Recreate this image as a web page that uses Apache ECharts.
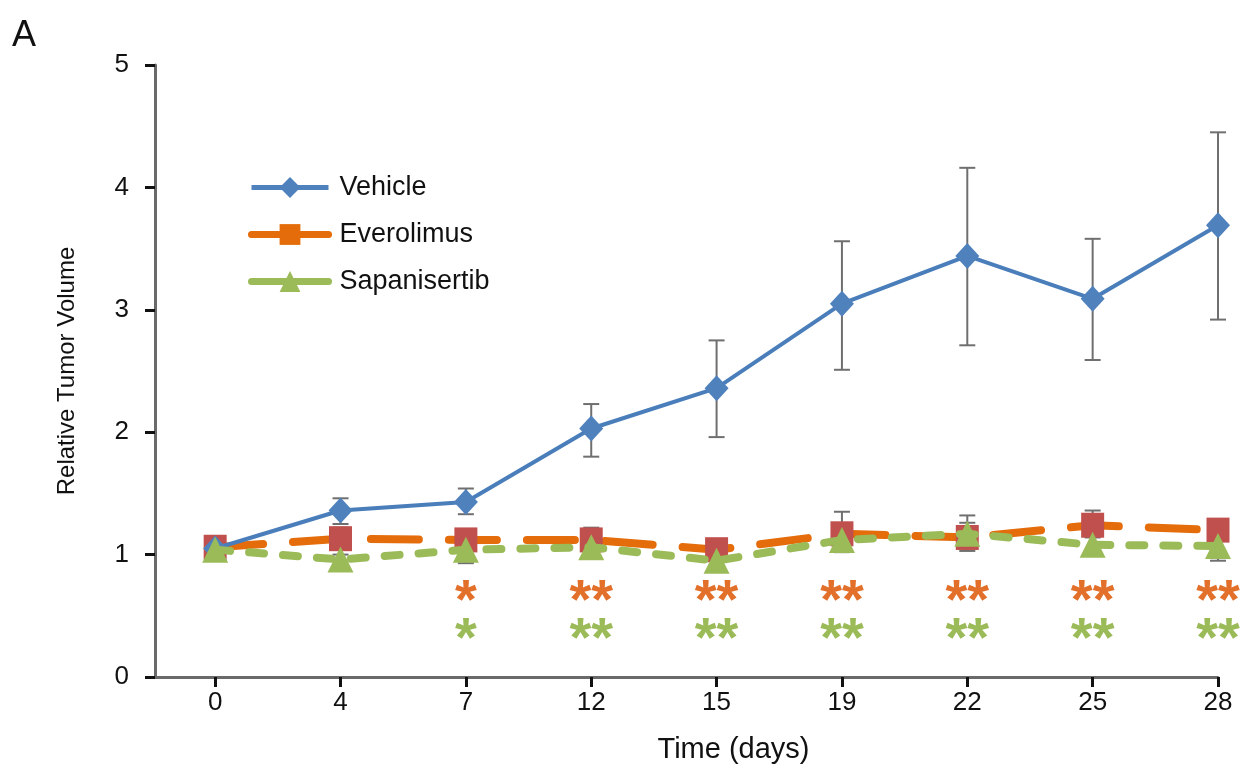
<!DOCTYPE html>
<html>
<head>
<meta charset="utf-8">
<script src="https://cdn.jsdelivr.net/npm/echarts@6/dist/echarts.min.js"></script>
<style>html,body{margin:0;padding:0;background:#fff}#c{width:1246px;height:773px}</style>
</head>
<body>
<div id="c"></div>
<script>
// ---- data ----
const days = ['0', '4', '7', '12', '15', '19', '22', '25', '28'];
const vehicle = [1.05, 1.36, 1.43, 2.03, 2.36, 3.05, 3.44, 3.09, 3.69];
const vehicleLow = [1.05, 1.25, 1.33, 1.80, 1.96, 2.51, 2.71, 2.59, 2.92];
const vehicleHigh = [1.05, 1.46, 1.54, 2.23, 2.75, 3.56, 4.16, 3.58, 4.45];
const everolimus = [1.06, 1.13, 1.12, 1.12, 1.04, 1.17, 1.14, 1.24, 1.20];
const everolimusLow = [1.06, 1.05, 1.04, 1.02, 0.98, 1.02, 1.03, 1.15, 1.12];
const everolimusHigh = [1.06, 1.22, 1.20, 1.22, 1.10, 1.35, 1.32, 1.36, 1.28];
const sapanisertib = [1.04, 0.96, 1.04, 1.06, 0.95, 1.12, 1.17, 1.08, 1.07];
const sapanisertibLow = [1.04, 0.92, 0.93, 1.00, 0.90, 1.04, 1.08, 1.02, 0.95];
const sapanisertibHigh = [1.04, 1.00, 1.10, 1.12, 1.00, 1.20, 1.26, 1.14, 1.12];
const everolimusSig = ['', '', '*', '**', '**', '**', '**', '**', '**'];
const sapanisertibSig = ['', '', '*', '**', '**', '**', '**', '**', '**'];
const sigLevelEverolimus = 0.61;
const sigLevelSapanisertib = 0.30;
const yTicks = [0, 1, 2, 3, 4, 5];

// ---- build ----
const idx = days.map((d, i) => i);
const pts = arr => arr.map((v, i) => [i, v]);
const errData = (lo, hi) => lo.map((l, i) => [i, l, hi[i]]);

function errSeries(lo, hi, z) {
  return {
    type: 'custom', z: z, silent: true,
    data: errData(lo, hi),
    renderItem: function (params, api) {
      const x = api.value(0);
      const p1 = api.coord([x, api.value(1)]);
      const p2 = api.coord([x, api.value(2)]);
      const hw = 8;
      const st = { stroke: '#6f6f6f', lineWidth: 2 };
      return {
        type: 'group', children: [
          { type: 'line', shape: { x1: p1[0], y1: p1[1], x2: p2[0], y2: p2[1] }, style: st },
          { type: 'line', shape: { x1: p1[0] - hw, y1: p1[1], x2: p1[0] + hw, y2: p1[1] }, style: st },
          { type: 'line', shape: { x1: p2[0] - hw, y1: p2[1], x2: p2[0] + hw, y2: p2[1] }, style: st }
        ]
      };
    }
  };
}

function sigSeries(sig, level, color) {
  return {
    type: 'scatter', z: 20, silent: true,
    symbolSize: 2, itemStyle: { color: 'rgba(0,0,0,0)', opacity: 1 },
    data: sig.map((s, i) => ({ value: [i, level], label: { formatter: s } })),
    label: {
      show: true, position: 'inside', color: color,
      fontFamily: 'Liberation Sans, Arial, sans-serif', fontSize: 56, fontWeight: 'bold',
      offset: [0, 22]
    },
    labelLayout: { hideOverlap: false }
  };
}

const chart = echarts.init(document.getElementById('c'), null, { renderer: 'canvas' });
const font = 'Liberation Sans, Arial, sans-serif';
chart.setOption({
  animation: false,
  backgroundColor: '#ffffff',
  grid: { left: 155, right: 28, top: 65, bottom: 96 },
  graphic: [{ type: 'text', left: 12, top: 18, style: { text: 'A', font: '36px ' + font, fill: '#111' } }],
  legend: {
    orient: 'vertical', left: 243, top: 169,
    itemWidth: 77, itemHeight: 26, itemGap: 20,
    textStyle: { fontFamily: font, fontSize: 27, color: '#111', padding: [0, 0, 0, 6] },
    data: [
      { name: 'Vehicle', itemStyle: { color: '#4F81BD' }, lineStyle: { color: '#4F81BD', type: 'solid', width: 5 } },
      { name: 'Everolimus', itemStyle: { color: '#E46C0A' }, lineStyle: { color: '#E46C0A', type: 'solid', width: 7 } },
      { name: 'Sapanisertib', itemStyle: { color: '#9BBB59' }, lineStyle: { color: '#9BBB59', type: 'solid', width: 7 } }
    ]
  },
  xAxis: {
    type: 'value', min: -0.48, max: 8,
    name: 'Time (days)', nameLocation: 'middle', nameGap: 58,
    nameTextStyle: { fontFamily: font, fontSize: 29, color: '#111', padding: [0, 0, 0, 94] },
    axisLine: { show: true, onZero: false, lineStyle: { color: '#6a6a6a', width: 3 } },
    axisTick: { show: true, customValues: idx, length: 10, lineStyle: { color: '#111', width: 3 } },
    axisLabel: { customValues: idx, formatter: v => days[Math.round(v)], margin: 13,
      fontFamily: font, fontSize: 26, color: '#111' },
    splitLine: { show: false }
  },
  yAxis: {
    type: 'value', min: yTicks[0], max: yTicks[yTicks.length - 1], interval: 1,
    name: 'Relative Tumor Volume', nameLocation: 'middle', nameGap: 76,
    nameTextStyle: { fontFamily: font, fontSize: 24, color: '#111' },
    axisLine: { show: true, onZero: false, lineStyle: { color: '#6a6a6a', width: 3 } },
    axisTick: { show: true, length: 10, lineStyle: { color: '#111', width: 3 } },
    axisLabel: { margin: 26, fontFamily: font, fontSize: 26, color: '#111' },
    splitLine: { show: false }
  },
  series: [
    errSeries(vehicleLow, vehicleHigh, 1),
    errSeries(everolimusLow, everolimusHigh, 1),
    errSeries(sapanisertibLow, sapanisertibHigh, 1),
    {
      name: 'Vehicle', type: 'line', z: 5, clip: false,
      data: pts(vehicle), symbol: 'diamond', symbolSize: [24, 26],
      itemStyle: { color: '#4F81BD' },
      lineStyle: { color: '#4A7EBB', width: 4 }
    },
    {
      name: 'Everolimus', type: 'line', z: 4, clip: false,
      data: pts(everolimus), symbol: 'rect', symbolSize: [23, 25],
      itemStyle: { color: '#C0504D' },
      lineStyle: { color: '#E46C0A', width: 8, type: [48, 30], cap: 'round' }
    },
    {
      name: 'Sapanisertib', type: 'line', z: 6, clip: false,
      data: pts(sapanisertib), symbol: 'triangle', symbolSize: [26, 26],
      itemStyle: { color: '#9BBB59' },
      lineStyle: { color: '#9BBB59', width: 8, type: [15, 19], cap: 'round' }
    },
    sigSeries(everolimusSig, sigLevelEverolimus, '#E2702A'),
    sigSeries(sapanisertibSig, sigLevelSapanisertib, '#9BBB59')
  ]
});
</script>
</body>
</html>
